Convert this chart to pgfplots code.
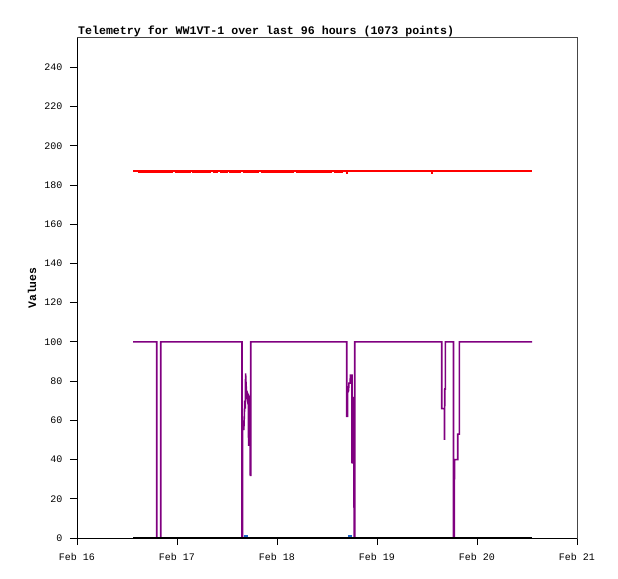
\documentclass[border=0pt]{standalone}
\usepackage{fontspec}
\setmainfont{Liberation Mono}
\usepackage{pgfplots}
\pgfplotsset{compat=1.18}
\definecolor{tpurple}{RGB}{128,0,128}
\definecolor{tblue}{RGB}{30,100,200}
\definecolor{tframe}{RGB}{70,70,70}
\begin{document}
\begin{tikzpicture}
\useasboundingbox (0,0) rectangle (618bp,579bp);
\begin{axis}[
  at={(77bp,41bp)}, anchor=south west,
  scale only axis, width=500bp, height=500bp,
  xmin=0, xmax=5, ymin=0, ymax=255,
  xtick={0,1,2,3,4,5},
  xticklabels={Feb 16,Feb 17,Feb 18,Feb 19,Feb 20,Feb 21},
  ytick={0,20,...,240},
  tick align=outside, major tick length=7bp,
  xtick pos=lower, ytick pos=left,
  tick style={black, line width=1bp},
  axis line style={tframe, line width=1bp},
  /pgf/number format/assume math mode=true,
  tick label style={font=\fontsize{10bp}{12bp}\selectfont},
  xticklabel style={yshift=-5bp},
  yticklabel style={xshift=-4bp},
  ylabel={\bfseries Values},
  ylabel style={font=\fontsize{11.4bp}{13bp}\selectfont, at={(axis description cs:-0.09,0.5)}, anchor=center},
  title={\bfseries Telemetry for WW1VT-1 over last 96 hours (1073 points)},
  title style={font=\fontsize{11.6bp}{13bp}\selectfont, at={(axis description cs:0,1)}, anchor=south west, yshift=-6bp, inner sep=1bp},
  clip=false,
  unbounded coords=jump,
]
% red series
\addplot[red, line width=2bp] coordinates {(0.56,187)(4.55,187)};
\addplot[red, line width=1.6bp] coordinates {
(0.61,186.4)(0.96,186.4) (nan,nan)
(0.975,186.4)(1.14,186.4) (nan,nan)
(1.15,186.4)(1.34,186.4) (nan,nan)
(1.36,186.4)(1.41,186.4) (nan,nan)
(1.43,186.4)(1.51,186.4) (nan,nan)
(1.52,186.4)(1.64,186.4) (nan,nan)
(1.66,186.4)(1.82,186.4) (nan,nan)
(1.84,186.4)(2.17,186.4) (nan,nan)
(2.19,186.4)(2.55,186.4) (nan,nan)
(2.57,186.4)(2.66,186.4) (nan,nan)
(2.685,186)(2.705,186) (nan,nan)
(3.54,186)(3.56,186)
};
% purple series
\addplot[tpurple, line width=1.6bp] coordinates {
(0.56,100)(0.797,100)(0.797,0)(0.837,0)(0.837,100)
(1.65,100)(1.65,0)(1.655,0)(1.655,53)(1.662,60)(1.668,55)(1.673,62)(1.678,70)(1.683,66)
(1.686,84)(1.69,79)(1.697,73)(1.703,71)(1.708,73)(1.713,72)(1.716,47)(1.72,72)(1.728,71)
(1.733,32)(1.737,32)(1.737,100)
(2.697,100)(2.697,62)(2.705,62)(2.705,74)(2.715,75)(2.72,79)(2.73,79)(2.735,83)(2.75,83)
(2.75,38)(2.765,72)(2.772,0)(2.777,0)(2.777,100)
(3.647,100)(3.647,66)(3.675,66)(3.675,50)(3.678,76)(3.683,76)(3.683,100)
(3.765,100)(3.765,0)(3.772,0)(3.772,13)(3.776,40)(3.807,40)(3.807,53)(3.823,53)(3.823,100)
(4.55,100)
};
% blue series
\addplot[tblue, line width=1.5bp] coordinates {(1.672,1)(1.712,1) (nan,nan) (2.71,1)(2.75,1)};
% black series
\addplot[black, line width=2bp] coordinates {(0.56,0)(4.55,0)};
\draw[black, line width=1bp] (rel axis cs:0,1) -- (rel axis cs:0,0) -- (rel axis cs:1,0);
\end{axis}
\end{tikzpicture}
\end{document}
